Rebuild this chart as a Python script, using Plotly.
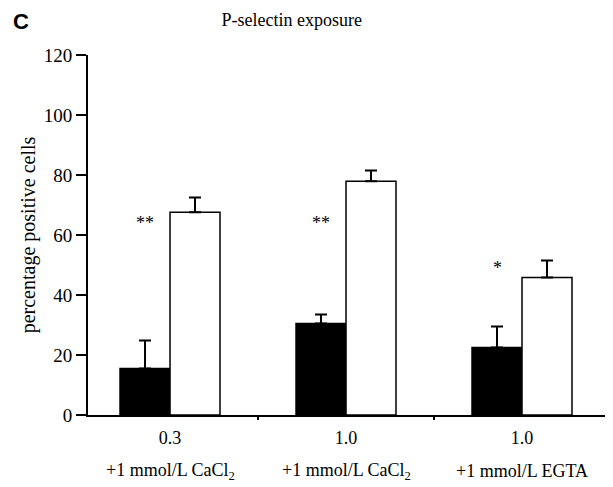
import plotly.graph_objects as go

groups = ["0.3", "1.0", "1.0"]
conditions = ["+1 mmol/L CaCl<sub>2</sub>", "+1 mmol/L CaCl<sub>2</sub>", "+1 mmol/L EGTA"]
black_vals = [15.5, 30.5, 22.5]
black_err = [9.3, 3.0, 7.0]
white_vals = [67.6, 77.9, 45.8]
white_err = [4.9, 3.6, 5.7]
signif = ["**", "**", "*"]
signif_y = [64, 64, 49]
yticks = [0, 20, 40, 60, 80, 100, 120]

xpos = list(range(len(groups)))
bargap = 0.432
serif = "Liberation Serif, Times New Roman, serif"

fig = go.Figure()
fig.add_trace(go.Bar(
    x=xpos, y=black_vals,
    marker=dict(color="black", line=dict(color="black", width=1.5)),
    error_y=dict(type="data", symmetric=False, array=black_err,
                 arrayminus=[0] * len(black_err), color="black", thickness=2, width=6),
    showlegend=False,
))
fig.add_trace(go.Bar(
    x=xpos, y=white_vals,
    marker=dict(color="white", line=dict(color="black", width=1.5)),
    error_y=dict(type="data", symmetric=False, array=white_err,
                 arrayminus=[0] * len(white_err), color="black", thickness=2, width=6),
    showlegend=False,
))

for i, (s, sy) in enumerate(zip(signif, signif_y)):
    fig.add_annotation(x=xpos[i] - (1 - bargap) / 4, y=sy, xref="x", yref="y",
                       text=s, showarrow=False,
                       font=dict(family=serif, size=18, color="black"))

for i, c in enumerate(conditions):
    fig.add_annotation(x=xpos[i], y=0, xref="x", yref="paper", yanchor="middle",
                       yshift=-56, text=c, showarrow=False,
                       font=dict(family=serif, size=18, color="black"))

fig.add_annotation(x=-0.148, y=1.094, xref="paper", yref="paper",
                   text="<b>C</b>", showarrow=False,
                   xanchor="left", yanchor="middle",
                   font=dict(family="Liberation Sans, Arial, sans-serif", size=22, color="black"))

fig.update_layout(
    width=605, height=479,
    margin=dict(l=80, r=3, t=47, b=72),
    paper_bgcolor="white", plot_bgcolor="white",
    barmode="group", bargap=bargap, bargroupgap=0,
    title=dict(text="P-selectin exposure", x=0.469, xanchor="center",
               y=0.975, yanchor="middle", automargin=False,
               font=dict(family=serif, size=18, color="black")),
    xaxis=dict(range=[-0.466, 2.5], tickvals=xpos, ticktext=groups,
               showline=True, linecolor="black", linewidth=2,
               ticks="", showgrid=False, zeroline=False, automargin=False,
               ticklabelstandoff=5,
               tickfont=dict(family=serif, size=18, color="black"),
               minor=dict(tickvals=[0.5, 1.5], ticks="outside", ticklen=3,
                          tickwidth=1.5, tickcolor="black")),
    yaxis=dict(range=[0, 120], tickvals=yticks,
               showline=True, linecolor="black", linewidth=2,
               ticks="outside", ticklen=10, tickwidth=2, tickcolor="black",
               showgrid=False, zeroline=False, automargin=False,
               tickfont=dict(family=serif, size=19, color="black"),
               title=dict(text="percentage positive cells", standoff=3,
                          font=dict(family=serif, size=20, color="black"))),
)

fig.write_html("out.html")
